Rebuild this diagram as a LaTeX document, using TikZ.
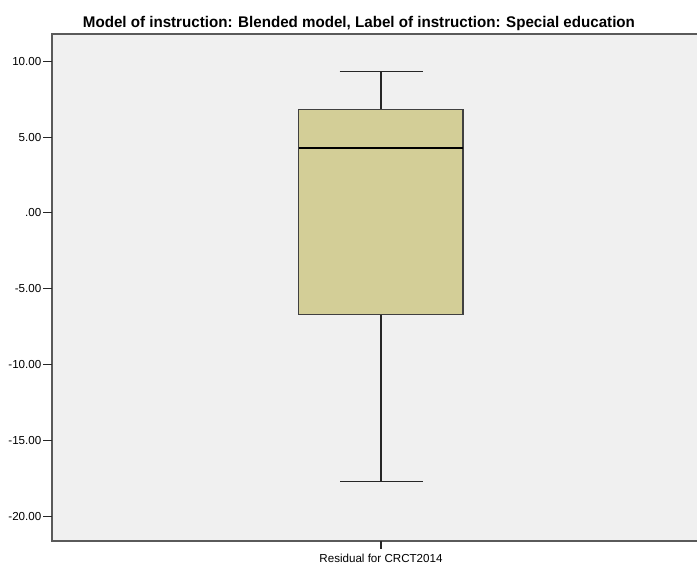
\documentclass[tikz,border=0pt]{standalone}
\usepackage{fontspec}
\setmainfont{Liberation Sans}
\definecolor{plotbg}{HTML}{F0F0F0}
\definecolor{boxfill}{HTML}{D3CE97}
\definecolor{framecol}{HTML}{5A5A5A}
\begin{document}
\begin{tikzpicture}[x=1pt,y=-1pt,
  frame/.style={draw=framecol,line width=1.4pt},
  ticklab/.style={anchor=east,inner sep=0pt,font=\fontsize{11.6}{13}\selectfont},
  tickmark/.style={draw=black!85,line width=1.1pt},
  whisk/.style={draw=black!85,line width=1.2pt},
  boxstyle/.style={fill=boxfill,draw=black!75,line width=1.2pt},
  medline/.style={draw=black,line width=2pt}]
  \useasboundingbox (0,0) rectangle (697,565);
  % plot area
  \fill[plotbg] (52,34) rectangle (699,541);
  \draw[frame] (699,34) -- (52,34) -- (52,541) -- (699,541);
  % title
  \node[inner sep=0pt,anchor=base west] (title) at (82.7,27.3)
    {\resizebox{552pt}{11.2pt}{\bfseries Model of instruction: Blended model, Label of instruction: Special education}};
  % y axis: value v sits at 212.9 - 15.17 v
  \foreach \v/\t in {10/10.00,5/5.00,0/.00,-5/-5.00,-10/-10.00,-15/-15.00,-20/-20.00}{
    \pgfmathsetmacro\yy{212.9-15.17*\v}
    \draw[tickmark] (43,\yy) -- (52,\yy);
    \node[ticklab] at (41.5,\yy) {\t};
  }
  % x axis tick and label
  \coordinate (xt) at (381,541);
  \draw[tickmark] (xt) -- ++(0,8);
  \node[inner sep=0pt,anchor=base,font=\fontsize{11.6}{13}\selectfont] (xlab) at (381,562) {Residual for CRCT2014};
  % box plot
  \coordinate (wtop) at (381,71.3);
  \coordinate (wbot) at (381,481.8);
  \coordinate (q3) at (381,109.5);
  \coordinate (q1) at (381,314.5);
  \draw[whisk] (wtop) -- (q3);
  \draw[whisk] (q1) -- (wbot);
  \draw[whisk] (339.5,71.3) -- (422.5,71.3);
  \draw[whisk] (340,481.8) -- (422.5,481.8);
  \draw[boxstyle] (298.5,109.5) rectangle (463,314.5);
  \draw[medline] (298.5,148) -- (463,148);
\end{tikzpicture}
\end{document}
